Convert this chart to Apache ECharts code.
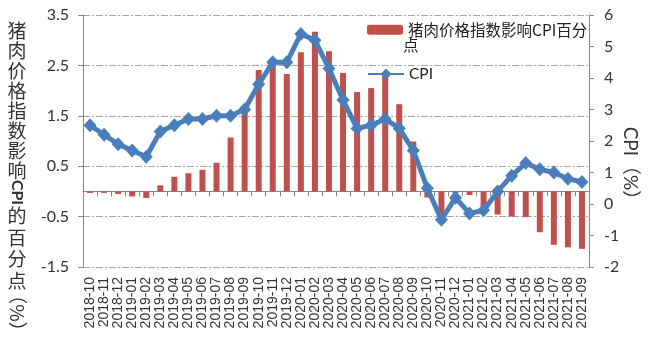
<!DOCTYPE html>
<html><head><meta charset="utf-8">
<script src="https://cdn.jsdelivr.net/npm/echarts@6/dist/echarts.min.js"></script>
<style>html,body{margin:0;padding:0;background:#fff}#c{width:652px;height:348px}</style>
</head><body><div id="c"></div>
<script>
// ---- data ----
const months = ['2018-10','2018-11','2018-12','2019-01','2019-02','2019-03','2019-04','2019-05','2019-06','2019-07','2019-08','2019-09',
  '2019-10','2019-11','2019-12','2020-01','2020-02','2020-03','2020-04','2020-05','2020-06','2020-07','2020-08','2020-09',
  '2020-10','2020-11','2020-12','2021-01','2021-02','2021-03','2021-04','2021-05','2021-06','2021-07','2021-08','2021-09'];
const porkImpact = [-0.03,-0.03,-0.05,-0.1,-0.13,0.12,0.29,0.36,0.43,0.57,1.07,1.6,
  2.41,2.6,2.33,2.76,3.17,2.78,2.35,1.97,2.05,2.29,1.73,0.99,
  -0.12,-0.56,-0.04,-0.07,-0.3,-0.46,-0.5,-0.51,-0.81,-1.06,-1.11,-1.14];
const cpi = [2.5,2.2,1.9,1.7,1.5,2.3,2.5,2.7,2.7,2.8,2.8,3.0,
  3.8,4.5,4.5,5.4,5.2,4.3,3.3,2.4,2.5,2.7,2.4,1.7,
  0.5,-0.5,0.2,-0.3,-0.2,0.4,0.9,1.3,1.1,1.0,0.8,0.7];
const leftAxisRange = [-1.5, 3.5, 1];   // min, max, interval
const rightAxisRange = [-2, 6, 1];
const barName = '猪肉价格指数影响CPI百分点';
const lineName = 'CPI';
const leftTitleParts = ['猪','肉','价','格','指','数','影','响','CPI','的','百','分','点','（%）'];
const rightTitle = 'CPI（%）';

// ---- chart ----
const CJK = '"Noto Sans CJK SC", sans-serif';
const NUM = 'Lato, "Liberation Sans", sans-serif';
const chart = echarts.init(document.getElementById('c'));

const leftY = [31,51,71,91,111,131,151,171,192.5,216,238,259,281,313];
const titleEls = leftTitleParts.map((t, i) => {
  const rotated = (t === 'CPI' || t === '（%）');
  return {
    type: 'text', x: 17, y: leftY[i], rotation: rotated ? -Math.PI / 2 : 0,
    style: { text: t, fill: '#333', align: 'center', verticalAlign: 'middle',
      fontSize: t === 'CPI' ? 16 : 19, fontWeight: t === 'CPI' ? 'bold' : 'normal',
      fontFamily: t === 'CPI' ? NUM : CJK }
  };
});

const grid = { left: 83, right: 63, top: 15, bottom: 81 };
const gridLine = { lineStyle: { color: '#a3a9b0', width: 1, type: [7, 2, 2, 2] } };
const axisGray = '#868686';

chart.setOption({
  animation: false,
  backgroundColor: '#fff',
  grid: grid,
  legend: [
    { data: [barName], left: 362, top: 17, itemWidth: 36, itemHeight: 10, itemGap: 0,
      selectedMode: false, formatter: () => '猪肉价格指数影响CPI百分',
      textStyle: { fontSize: 15.5, lineHeight: 10, color: '#222', fontFamily: CJK } },
    { data: [lineName], left: 362, top: 61, itemWidth: 36, itemHeight: 14, itemGap: 0,
      selectedMode: false,
      textStyle: { fontSize: 15.5, lineHeight: 14, color: '#222', fontFamily: NUM } }
  ],
  graphic: titleEls.concat([
    { type: 'text', x: 403, y: 45,
      style: { text: '点', fill: '#222', fontSize: 15.5, fontFamily: CJK, align: 'left', verticalAlign: 'middle' } },
    { type: 'text', x: 630, y: 168, rotation: -Math.PI / 2,
      style: { text: rightTitle, fill: '#333', fontSize: 19, fontFamily: NUM + ',' + CJK, align: 'center', verticalAlign: 'middle' } }
  ]),
  xAxis: [
    { type: 'category', data: months, position: 'bottom',
      axisLine: { show: false, onZero: false }, axisTick: { show: false },
      axisLabel: { rotate: 90, interval: 0, hideOverlap: false, minMargin: 0, margin: 10, fontSize: 14, lineHeight: 10,
        color: '#333', fontFamily: '"Liberation Sans", Arial, sans-serif' },
      splitLine: { show: false } },
    { type: 'category', data: months, position: 'top',
      axisLine: { show: true, onZero: true, onZeroAxisIndex: 0, lineStyle: { color: axisGray, width: 1 } },
      axisTick: { show: true, inside: true, length: 5, interval: 0, lineStyle: { color: axisGray } },
      axisLabel: { show: false }, splitLine: { show: false } }
  ],
  yAxis: [
    { type: 'value', position: 'left', min: leftAxisRange[0], max: leftAxisRange[1], interval: leftAxisRange[2],
      axisLine: { show: true, lineStyle: { color: axisGray } },
      axisTick: { show: true, length: 5, lineStyle: { color: axisGray } },
      axisLabel: { margin: 14, fontSize: 16, color: '#333', fontFamily: NUM },
      splitLine: Object.assign({ show: true }, gridLine) },
    { type: 'value', position: 'right', min: rightAxisRange[0], max: rightAxisRange[1], interval: rightAxisRange[2],
      axisLine: { show: true, lineStyle: { color: axisGray } },
      axisTick: { show: true, length: 5, lineStyle: { color: axisGray } },
      axisLabel: { margin: 15, fontSize: 16, color: '#333', fontFamily: NUM },
      splitLine: { show: false } }
  ],
  series: [
    { name: barName, type: 'bar', data: porkImpact, xAxisIndex: 0, yAxisIndex: 0,
      barWidth: 6, itemStyle: { color: '#C0504D' }, z: 2 },
    { name: lineName, type: 'line', data: cpi, xAxisIndex: 0, yAxisIndex: 1,
      symbol: 'diamond', symbolSize: [13, 14], showSymbol: true,
      lineStyle: { color: '#4A7EBB', width: 5 }, itemStyle: { color: '#4A7EBB' }, z: 3 }
  ]
});
</script>
</body></html>
